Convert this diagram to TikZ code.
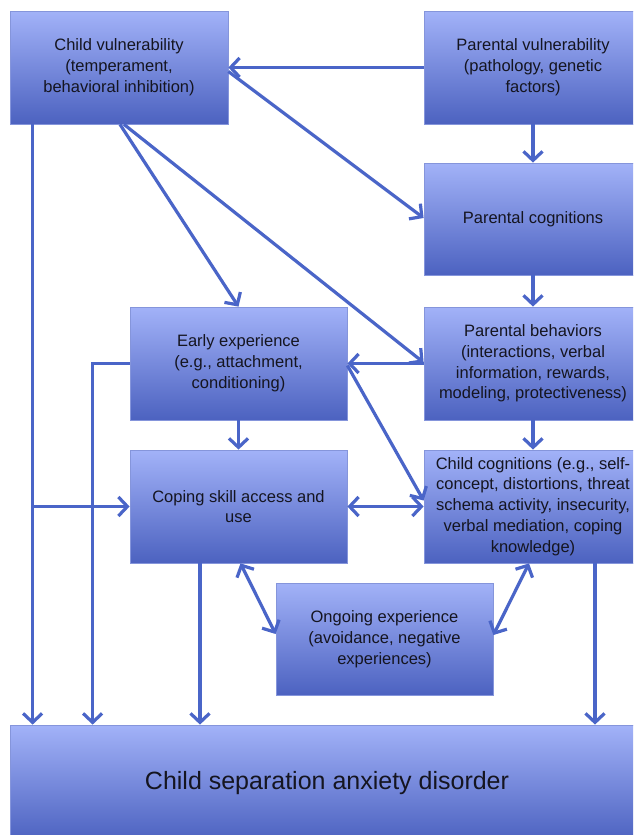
\documentclass[tikz,border=0pt]{standalone}
\usepackage{fontspec}
\setmainfont{Liberation Sans}
\usetikzlibrary{arrows.meta,calc}
\definecolor{boxtop}{HTML}{A2B2F8}
\definecolor{boxbot}{HTML}{4C62C0}
\definecolor{boxline}{HTML}{8595DB}
\definecolor{arrcol}{HTML}{4A65C8}
\definecolor{txt}{HTML}{151520}
\tikzset{
  box/.style={rectangle, draw=boxline, line width=0.8pt, top color=boxtop, bottom color=boxbot,
    minimum width=218pt, minimum height=113pt, inner sep=0pt, align=center, text=txt,
    font=\fontsize{16.5}{20.8}\selectfont},
  arr/.style={draw=arrcol, line width=3.2pt, -{Straight Barb[length=9pt,width=19pt]}},
  darr/.style={draw=arrcol, line width=3.2pt, {Straight Barb[length=9pt,width=19pt]}-{Straight Barb[length=9pt,width=19pt]}},
  ln/.style={draw=arrcol, line width=3.2pt}
}
\begin{document}
\begin{tikzpicture}[x=1pt,y=-1pt]
\useasboundingbox (0,0) rectangle (633,835);
\clip (0,0) rectangle (633,835);
\fill[white] (0,0) rectangle (633,835);

\node[box] (cv) at (119,67.5) {Child vulnerability\\(temperament,\\behavioral inhibition)};
\node[box] (pv) at (533,67.5) {Parental vulnerability\\(pathology, genetic\\factors)};
\node[box, minimum height=112pt] (pc) at (533,219) {Parental cognitions};
\node[box] (pb) at (533,363.5) {Parental behaviors\\(interactions, verbal\\information, rewards,\\modeling, protectiveness)};
\node[box] (cc) at (533,506.5) {Child cognitions (e.g., self-\\concept, distortions, threat\\schema activity, insecurity,\\verbal mediation, coping\\knowledge)};
\node[box, minimum width=217pt] (ee) at (238.5,363.5) {Early experience\\(e.g., attachment,\\conditioning)};
\node[box, minimum width=217pt] (cs) at (238.5,506.5) {Coping skill access and\\use};
\node[box, minimum width=217pt, minimum height=112pt] (oe) at (384.5,639) {Ongoing experience\\(avoidance, negative\\experiences)};
\node[box, minimum width=634pt, minimum height=116pt, font=\fontsize{25}{30}\selectfont] (sad) at (327,783) {Child separation anxiety disorder};

\coordinate (cvl) at ([xshift=23pt]cv.south west);
\coordinate (sadl) at ([xshift=23pt]sad.north west);
\coordinate (eel) at ([xshift=83pt]sad.north west);

% top row
\draw[arr] (pv.west) -- (cv.east);
\draw[arr] ([yshift=-4pt]cv.east) -- ([yshift=1pt]pc.west);
\draw[arr] ([xshift=1pt]cv.south) -- (ee.north);
\draw[arr] ([xshift=5pt]cv.south) -- ([yshift=1pt]pb.west);

% right column
\draw[arr] (pv.south) -- (pc.north);
\draw[arr] (pc.south) -- (pb.north);
\draw[arr] (pb.south) -- (cc.north);

% middle
\draw[arr] (pb.west) -- (ee.east);
\draw[arr] ([yshift=-2pt]ee.east) -- ([yshift=6pt]cc.west);
\draw[darr] (cs.east) -- (cc.west);
\draw[arr] (ee.south) -- (cs.north);

% left verticals
\draw[arr] (cvl) -- (sadl);
\draw[arr] (cvl |- cs.west) -- (cs.west);
\draw[arr] (ee.west) -| (eel);

% bottom
\draw[arr] ([xshift=-38.5pt]cs.south) -- ([xshift=-38.5pt]cs.south |- sad.north);
\draw[darr] ([xshift=2pt]cs.south) -- ([yshift=5pt]oe.west);
\draw[darr] ([xshift=-4pt]cc.south) -- ([yshift=4pt]oe.east);
\draw[arr] ([xshift=62pt]cc.south) -- ([xshift=62pt]cc.south |- sad.north);
\end{tikzpicture}
\end{document}
